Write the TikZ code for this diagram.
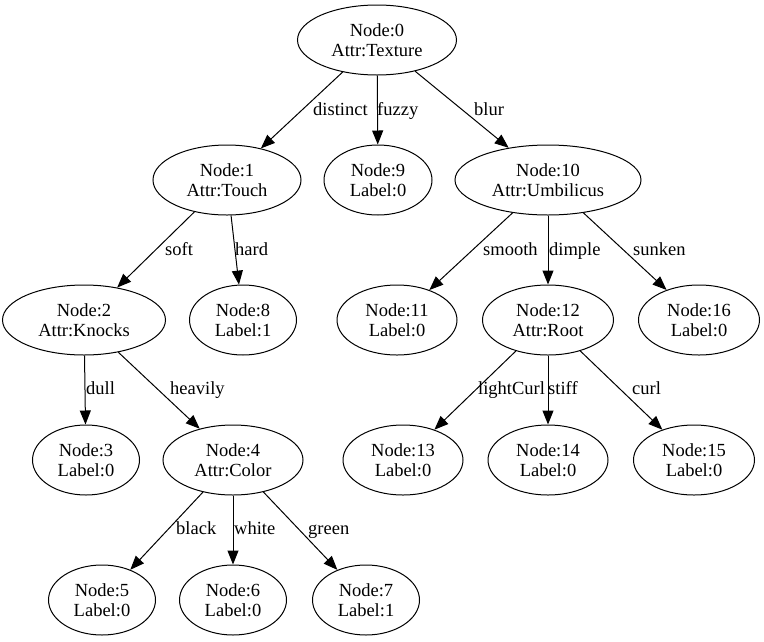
\documentclass[tikz,border=0pt]{standalone}
\usepackage{fontspec}
\setmainfont{Liberation Serif}
\usetikzlibrary{shapes.geometric,arrows.meta}
\tikzset{
  tn/.style={ellipse,draw,line width=1pt,inner sep=0pt,minimum height=70pt,align=center,font=\fontsize{18.5}{20}\selectfont},
  edge/.style={line width=1pt,-{Triangle[length=14pt,width=11pt]}},
  el/.style={anchor=base west,inner sep=0pt,font=\fontsize{18.5}{20}\selectfont}
}
\begin{document}
\begin{tikzpicture}[x=1pt,y=-1pt]
\useasboundingbox (0,0) rectangle (764,641);
\node[tn,minimum width=159pt] (n0) at (377,40) {Node:0\\Attr:Texture};
\node[tn,minimum width=148pt] (n1) at (227,180) {Node:1\\Attr:Touch};
\node[tn,minimum width=108pt] (n9) at (378,180) {Node:9\\Label:0};
\node[tn,minimum width=186pt] (n10) at (548,180) {Node:10\\Attr:Umbilicus};
\node[tn,minimum width=163pt] (n2) at (84,320) {Node:2\\Attr:Knocks};
\node[tn,minimum width=107pt] (n8) at (243,320) {Node:8\\Label:1};
\node[tn,minimum width=120pt] (n11) at (397,320) {Node:11\\Label:0};
\node[tn,minimum width=131pt] (n12) at (548,320) {Node:12\\Attr:Root};
\node[tn,minimum width=121pt] (n16) at (699,320) {Node:16\\Label:0};
\node[tn,minimum width=107pt] (n3) at (86,460) {Node:3\\Label:0};
\node[tn,minimum width=140pt] (n4) at (233,460) {Node:4\\Attr:Color};
\node[tn,minimum width=120pt] (n13) at (403,460) {Node:13\\Label:0};
\node[tn,minimum width=120pt] (n14) at (548,460) {Node:14\\Label:0};
\node[tn,minimum width=121pt] (n15) at (694,460) {Node:15\\Label:0};
\node[tn,minimum width=107pt] (n5) at (102,600) {Node:5\\Label:0};
\node[tn,minimum width=107pt] (n6) at (233,600) {Node:6\\Label:0};
\node[tn,minimum width=107pt] (n7) at (366,600) {Node:7\\Label:1};
\draw[edge] (n0) -- (n1);
\draw[edge] (n0) -- (n9);
\draw[edge] (n0) -- (n10);
\draw[edge] (n1) -- (n2);
\draw[edge] (n1) -- (n8);
\draw[edge] (n10) -- (n11);
\draw[edge] (n10) -- (n12);
\draw[edge] (n10) -- (n16);
\draw[edge] (n2) -- (n3);
\draw[edge] (n2) -- (n4);
\draw[edge] (n12) -- (n13);
\draw[edge] (n12) -- (n14);
\draw[edge] (n12) -- (n15);
\draw[edge] (n4) -- (n5);
\draw[edge] (n4) -- (n6);
\draw[edge] (n4) -- (n7);
\node[el] (l1) at (313,115) {distinct};
\node[el] (l9) at (377,115) {fuzzy};
\node[el] (l10) at (474,115) {blur};
\node[el] (l2) at (165,255) {soft};
\node[el] (l8) at (235,255) {hard};
\node[el] (l11) at (483,255) {smooth};
\node[el] (l12) at (549,255) {dimple};
\node[el] (l16) at (633,255) {sunken};
\node[el] (l3) at (86,394) {dull};
\node[el] (l4) at (170,394) {heavily};
\node[el] (l13) at (478,394) {lightCurl};
\node[el] (l14) at (548,394) {stiff};
\node[el] (l15) at (632,394) {curl};
\node[el] (l5) at (176,534) {black};
\node[el] (l6) at (234,534) {white};
\node[el] (l7) at (308,534) {green};
\end{tikzpicture}
\end{document}
